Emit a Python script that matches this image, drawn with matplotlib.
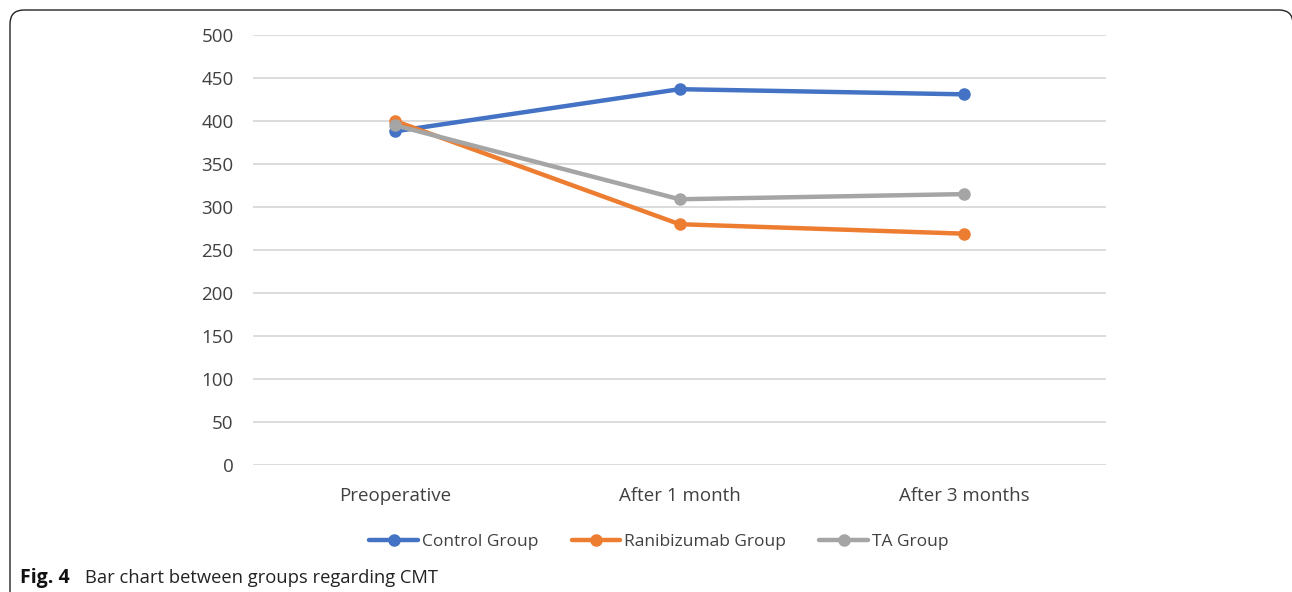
import matplotlib
matplotlib.use('Agg')
import matplotlib.pyplot as plt
from matplotlib.patches import FancyBboxPatch

plt.rcParams['font.family'] = ['Open Sans', 'DejaVu Sans']

periods = ['Preoperative', 'After 1 month', 'After 3 months']
control = [388, 437, 431]
ranibizumab = [400, 280, 269]
ta_group = [395, 309, 315]
series_names = ['Control Group', 'Ranibizumab Group', 'TA Group']
yticks = [0, 50, 100, 150, 200, 250, 300, 350, 400, 450, 500]

colors = ['#4472C4', '#ED7D31', '#A5A5A5']

W, H = 1292, 592
fig = plt.figure(figsize=(W / 100, H / 100), dpi=100)

# rounded frame around the figure, drawn on a pixel-space overlay
bg = fig.add_axes([0, 0, 1, 1], zorder=-1)
bg.set_xlim(0, W)
bg.set_ylim(H, 0)
bg.axis('off')
bg.add_patch(FancyBboxPatch((10, 10), W - 9, H + 20,
                            boxstyle='round,pad=0,rounding_size=14',
                            fill=False, ec='#222222', lw=1.0))

ax = fig.add_axes([253 / W, 1 - 465 / H, (1106 - 253) / W, (465 - 35) / H])
x = [0.5, 1.5, 2.5]
for vals, name, c in zip([control, ranibizumab, ta_group], series_names, colors):
    ax.plot(x, vals, '-o', color=c, lw=3.2, ms=8, label=name,
            solid_capstyle='round', zorder=3)

ax.set_xlim(0, 3)
ax.set_ylim(0, 500)
ax.set_yticks(yticks)
ax.set_xticks(x)
ax.set_xticklabels(periods)
ax.grid(axis='y', color='#d9d9d9', lw=1.3)
ax.set_axisbelow(True)
for s in ax.spines.values():
    s.set_visible(False)
ax.tick_params(length=0, labelsize=13.5, colors='#404040')
ax.tick_params(axis='y', pad=14)
ax.tick_params(axis='x', pad=16)

fig.legend(loc='center', bbox_to_anchor=(659 / W, 1 - 542 / H), ncol=3,
           frameon=False, fontsize=12.5, handlelength=2.8, handletextpad=0.25,
           columnspacing=1.9, labelcolor='#404040')

fig.text(20 / W, 1 - 578 / H, 'Fig. 4', fontsize=14, fontweight='bold',
         va='center', ha='left', color='#111111')
fig.text(85 / W, 1 - 578 / H, 'Bar chart between groups regarding CMT',
         fontsize=13.2, va='center', ha='left', color='#222222')

fig.savefig('out.png', dpi=100)
